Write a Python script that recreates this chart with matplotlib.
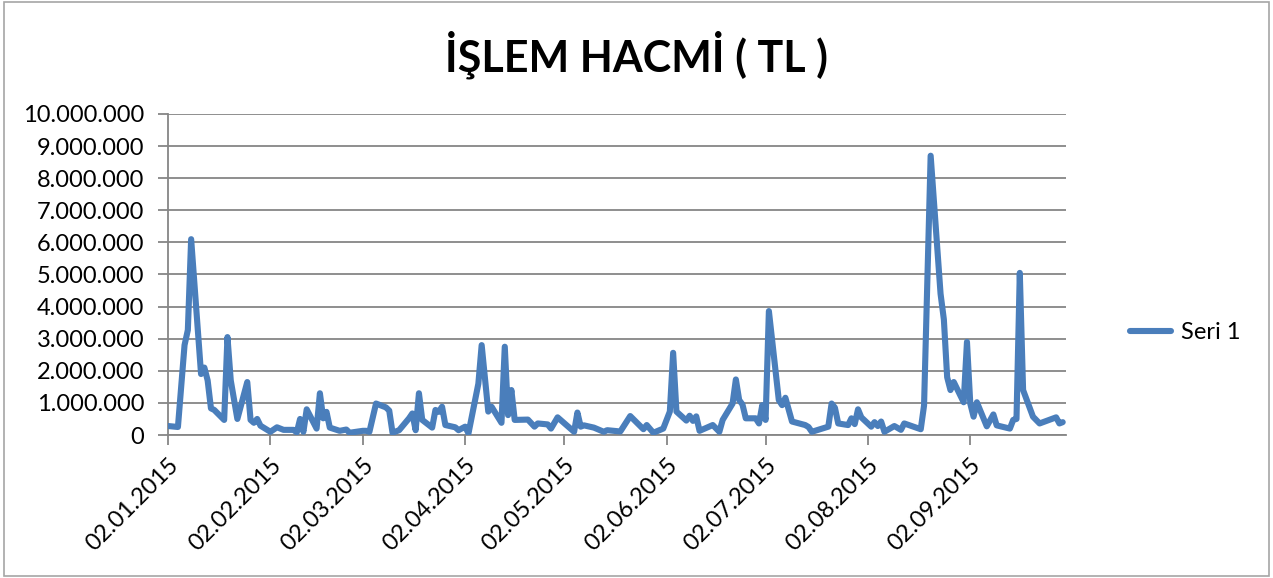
import pandas as pd
import numpy as np
import matplotlib
matplotlib.use("Agg")
import matplotlib.pyplot as plt
import matplotlib.dates as mdates
from matplotlib.ticker import FuncFormatter
from matplotlib.patches import Rectangle

# daily trading volume (TL), values in millions
dates = [
    "2015-01-02", "2015-01-05", "2015-01-07", "2015-01-08", "2015-01-09", "2015-01-12",
    "2015-01-13", "2015-01-14", "2015-01-15", "2015-01-16", "2015-01-19", "2015-01-20",
    "2015-01-21", "2015-01-23", "2015-01-26", "2015-01-27", "2015-01-28", "2015-01-29",
    "2015-01-30",
    "2015-02-02", "2015-02-04", "2015-02-06", "2015-02-09", "2015-02-10", "2015-02-11",
    "2015-02-12", "2015-02-13", "2015-02-16", "2015-02-17", "2015-02-18", "2015-02-19",
    "2015-02-20", "2015-02-23", "2015-02-25", "2015-02-26",
    "2015-03-02", "2015-03-03", "2015-03-04", "2015-03-06", "2015-03-09", "2015-03-10",
    "2015-03-11", "2015-03-13", "2015-03-16", "2015-03-17", "2015-03-18", "2015-03-19",
    "2015-03-20", "2015-03-23", "2015-03-24", "2015-03-25", "2015-03-26", "2015-03-27",
    "2015-03-30", "2015-03-31",
    "2015-04-02", "2015-04-03", "2015-04-06", "2015-04-07", "2015-04-09", "2015-04-10",
    "2015-04-13", "2015-04-14", "2015-04-15", "2015-04-16", "2015-04-17", "2015-04-21",
    "2015-04-23", "2015-04-24", "2015-04-27", "2015-04-28", "2015-04-30",
    "2015-05-05", "2015-05-06", "2015-05-07", "2015-05-08", "2015-05-11", "2015-05-14",
    "2015-05-15", "2015-05-19", "2015-05-22", "2015-05-26", "2015-05-27", "2015-05-29",
    "2015-06-01", "2015-06-03", "2015-06-04", "2015-06-05", "2015-06-08", "2015-06-09",
    "2015-06-10", "2015-06-11", "2015-06-12", "2015-06-16", "2015-06-18", "2015-06-19",
    "2015-06-22", "2015-06-23", "2015-06-24", "2015-06-25", "2015-06-26", "2015-06-29",
    "2015-06-30",
    "2015-07-01", "2015-07-02", "2015-07-03", "2015-07-06", "2015-07-07", "2015-07-08",
    "2015-07-10", "2015-07-14", "2015-07-15", "2015-07-16", "2015-07-21", "2015-07-22",
    "2015-07-23", "2015-07-24", "2015-07-27", "2015-07-28", "2015-07-29", "2015-07-30",
    "2015-07-31",
    "2015-08-03", "2015-08-04", "2015-08-05", "2015-08-06", "2015-08-07", "2015-08-10",
    "2015-08-12", "2015-08-13", "2015-08-18", "2015-08-19", "2015-08-21", "2015-08-24",
    "2015-08-25", "2015-08-26", "2015-08-27", "2015-08-28", "2015-08-31",
    "2015-09-01", "2015-09-02", "2015-09-03", "2015-09-04", "2015-09-07", "2015-09-09",
    "2015-09-10", "2015-09-14", "2015-09-15", "2015-09-16", "2015-09-17", "2015-09-18",
    "2015-09-21", "2015-09-23", "2015-09-28", "2015-09-29", "2015-09-30",
]
volume_m = [
    0.28, 0.25, 2.80, 3.27, 6.10, 1.90,
    2.10, 1.70, 0.83, 0.78, 0.47, 3.05,
    1.70, 0.50, 1.65, 0.47, 0.38, 0.50,
    0.29,
    0.10, 0.24, 0.16, 0.16, 0.08, 0.50,
    0.10, 0.80, 0.20, 1.30, 0.52, 0.72,
    0.23, 0.13, 0.17, 0.07,
    0.13, 0.13, 0.10, 0.98, 0.86, 0.76,
    0.07, 0.15, 0.52, 0.67, 0.15, 1.30,
    0.47, 0.23, 0.78, 0.72, 0.88, 0.31,
    0.24, 0.15,
    0.26, 0.05, 1.60, 2.80, 0.73, 0.88,
    0.38, 2.75, 0.62, 1.40, 0.47, 0.48,
    0.26, 0.36, 0.33, 0.20, 0.55,
    0.10, 0.70, 0.26, 0.30, 0.23, 0.10,
    0.15, 0.11, 0.59, 0.18, 0.31, 0.07,
    0.20, 0.73, 2.56, 0.73, 0.45, 0.60,
    0.44, 0.58, 0.13, 0.31, 0.10, 0.47,
    0.98, 1.73, 1.09, 0.95, 0.52, 0.52,
    0.36,
    0.93, 0.47, 3.86, 1.09, 0.93, 1.16,
    0.42, 0.31, 0.25, 0.10, 0.26, 0.98,
    0.85, 0.36, 0.31, 0.52, 0.34, 0.80,
    0.55,
    0.26, 0.40, 0.28, 0.42, 0.10, 0.28,
    0.16, 0.36, 0.18, 0.92, 8.70, 4.40,
    3.60, 1.80, 1.40, 1.65, 1.02,
    2.90, 0.98, 0.57, 1.02, 0.27, 0.64,
    0.30, 0.20, 0.47, 0.50, 5.05, 1.40,
    0.57, 0.36, 0.55, 0.36, 0.40,
]
tick_dates = ["2015-01-02", "2015-02-02", "2015-03-02", "2015-04-02", "2015-05-02",
              "2015-06-02", "2015-07-02", "2015-08-02", "2015-09-02"]

x = pd.to_datetime(dates)
y = np.array(volume_m) * 1_000_000

plt.rcParams["font.family"] = ["Lato", "DejaVu Sans"]

fig = plt.figure(figsize=(12.73, 5.78), dpi=100)
ax = fig.add_axes([0.132, 0.2474, 0.7054, 0.5554])

grid_col = "#868686"
ax.plot(x, y, color="#4A7EBB", linewidth=4.4, solid_joinstyle="round",
        solid_capstyle="round", label="Seri 1", zorder=3)

ax.set_ylim(0, 10_000_000)
ax.set_yticks(range(0, 10_000_001, 1_000_000))
ax.yaxis.set_major_formatter(FuncFormatter(lambda v, p: f"{int(v):,}".replace(",", ".")))
ax.grid(axis="y", color=grid_col, linewidth=1.3)
ax.set_axisbelow(True)

ax.set_xlim(pd.Timestamp("2015-01-02"), pd.Timestamp("2015-10-01"))
ax.set_xticks(pd.to_datetime(tick_dates))
ax.xaxis.set_major_formatter(mdates.DateFormatter("%d.%m.%Y"))
plt.setp(ax.get_xticklabels(), rotation=45, ha="right", rotation_mode="anchor")

for s in ["top", "right"]:
    ax.spines[s].set_visible(False)
for s in ["left", "bottom"]:
    ax.spines[s].set_color(grid_col)
    ax.spines[s].set_linewidth(1.3)
ax.tick_params(axis="both", color=grid_col, width=1.3, length=7, labelsize=17, labelcolor="black")
ax.tick_params(axis="x", pad=7)
ax.tick_params(axis="y", pad=10)

fig.text(0.5, 0.905, "İŞLEM HACMİ ( TL )", ha="center", va="center",
         fontsize=31, fontweight="bold")

ax.legend(loc="center left", bbox_to_anchor=(0.871, 0.424), bbox_transform=fig.transFigure,
          frameon=False, fontsize=17, handlelength=1.75, handletextpad=0.4)

fig.patches.append(Rectangle((0.003, 0.004), 0.994, 0.992, transform=fig.transFigure,
                             fill=False, edgecolor="#A6A6A6", linewidth=1.2))

fig.savefig("out.png", dpi=100)
